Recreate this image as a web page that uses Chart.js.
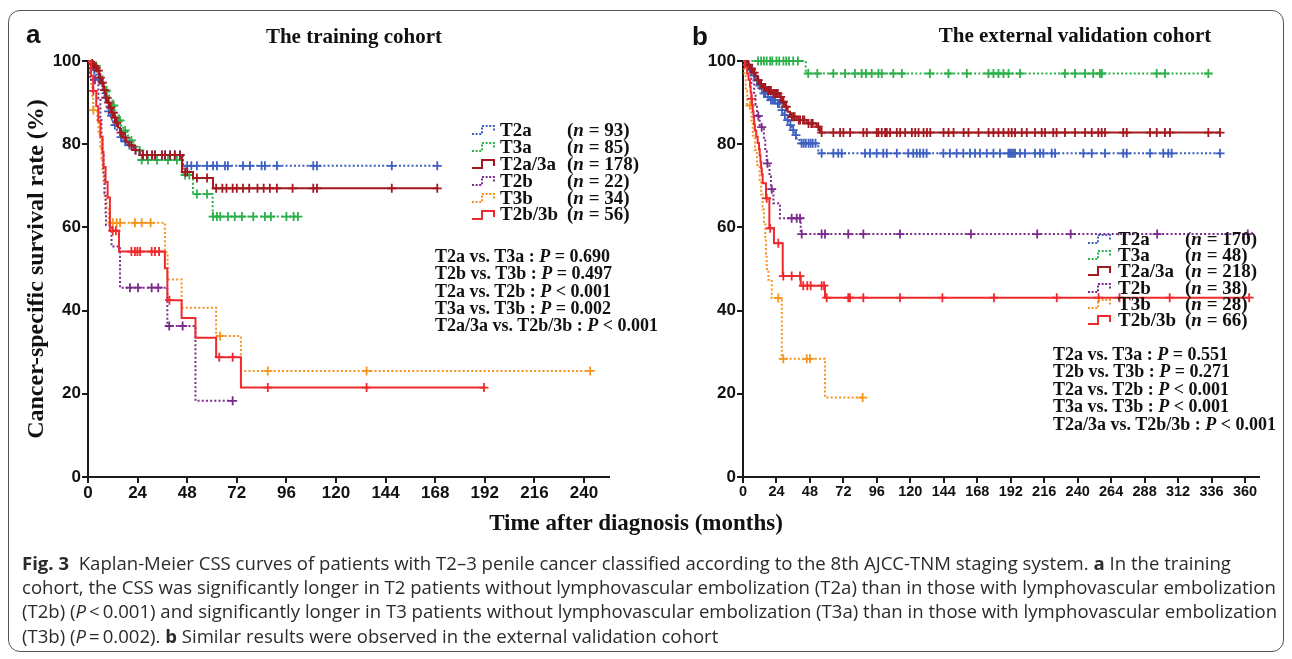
<!DOCTYPE html>
<html><head><meta charset="utf-8">
<script src="https://cdn.jsdelivr.net/npm/chart.js@4.4.0/dist/chart.umd.min.js"></script>
<style>
html,body{margin:0;padding:0;background:#fff;width:1292px;height:659px;overflow:hidden;}
#wrap{position:relative;width:1292px;height:659px;}
canvas{position:absolute;left:0;top:0;}
.box{position:absolute;left:8px;top:10px;width:1276px;height:642px;border:1px solid #555;border-radius:12px;box-sizing:border-box;}
.serif{font-family:"Liberation Serif","Times New Roman",serif;font-weight:bold;color:#111;}
.lbl{position:absolute;font-family:"Liberation Sans",Arial,sans-serif;font-weight:bold;font-size:26px;line-height:26px;color:#111;}
.ttl{position:absolute;font-size:21px;line-height:21px;text-align:center;white-space:nowrap;}
.leg{position:absolute;font-size:19px;white-space:nowrap;}
.leg .row{position:relative;}
.leg .nm{position:absolute;}
.leg .nn{position:absolute;}
.pv{position:absolute;font-size:18px;white-space:nowrap;}
#cap{position:absolute;left:22px;font-family:"Open Sans","Noto Sans",sans-serif;color:#2b2b2b;white-space:nowrap;}
#cap div{white-space:nowrap;}
</style>
</head>
<body>
<div id="wrap">
  <div class="box"></div>
  <canvas id="cA" width="1292" height="659"></canvas>
  <canvas id="cB" width="1292" height="659"></canvas>
  <div class="lbl" style="left:26px;top:21px">a</div>
  <div class="lbl" style="left:692px;top:23px">b</div>
  <div class="ttl serif" style="left:154px;top:26px;width:400px">The training cohort</div>
  <div class="ttl serif" style="left:875px;top:25px;width:400px">The external validation cohort</div>
  <div id="legA" class="leg serif" style="left:472px;top:122px"></div>
  <div id="legB" class="leg serif" style="left:1088px;top:231px"></div>
  <div id="pA" class="pv serif" style="left:435px;top:248px"></div>
  <div id="pB" class="pv serif" style="left:1053px;top:346px"></div>
  <div class="serif" style="position:absolute;left:336px;top:511px;width:600px;text-align:center;font-size:23px;line-height:23px;white-space:nowrap">Time after diagnosis (months)</div>
  <div id="cap">
    <div id="cl1"><b>Fig. 3</b>&nbsp; Kaplan-Meier CSS curves of patients with T2–3 penile cancer classified according to the 8th AJCC-TNM staging system. <b>a</b> In the training</div>
    <div id="cl2">cohort, the CSS was significantly longer in T2 patients without lymphovascular embolization (T2a) than in those with lymphovascular embolization</div>
    <div id="cl3">(T2b) (<i>P</i>&thinsp;&lt;&thinsp;0.001) and significantly longer in T3 patients without lymphovascular embolization (T3a) than in those with lymphovascular embolization</div>
    <div id="cl4">(T3b) (<i>P</i>&thinsp;=&thinsp;0.002). <b>b</b> Similar results were observed in the external validation cohort</div>
  </div>
</div>
<script>
// ---------- DATA ----------
const groupNames = ['T2a','T3a','T2a/3a','T2b','T3b','T2b/3b'];
const nTraining = [93, 85, 178, 22, 34, 56];
const nValidation = [170, 48, 218, 38, 28, 66];
const comparisons = ['T2a vs. T3a','T2b vs. T3b','T2a vs. T2b','T3a vs. T3b','T2a/3a vs. T2b/3b'];
const pTraining = ['= 0.690','= 0.497','< 0.001','= 0.002','< 0.001'];
const pValidation = ['= 0.551','= 0.271','< 0.001','< 0.001','< 0.001'];
const yTicks = [0,20,40,60,80,100];
const xTicksA = [0,24,48,72,96,120,144,168,192,216,240];
const xTicksB = [0,24,48,72,96,120,144,168,192,216,240,264,288,312,336,360];

// Training cohort: survival steps [month, %] and censor times (months)
const a_T2a_steps = [[0,100],[2,98.9],[3,97.8],[4,96.7],[5,95.6],[6,94.5],[7,92.3],[8,91.2],[9,89],[10,87.9],[11,86.8],[12,84.6],[14,83.4],[15.5,81.7],[17,80.6],[19,79.8],[22,78.6],[25,77.4],[46,74.8]];
const a_T2a_cens = [3,5.5,8.5,10,11.5,13,16,18,20,23,26.6,28.5,31,32.4,35.8,37.3,39.7,42,44.5,48,50,52.7,57.6,60.5,62.4,66.3,67.7,75,78.4,84,85.6,91.4,109,110.8,147,169];
const a_T3a_steps = [[0,100],[3,98.8],[5,97.6],[6,96.4],[7,95.2],[8,92.9],[10,91.7],[11,90.5],[12,89.3],[13,88.1],[14,86.9],[15,85.7],[16,84.5],[17,83.3],[19,82.1],[20,80.9],[22,79.7],[24,78.5],[26,76.2],[46,72.6],[50.8,68],[60.3,62.6]];
const a_T3a_cens = [4,9,12.5,15.5,18,21,25,26,29,33.4,38.7,43,47,49,52.7,57.6,60.5,62.4,64,67.7,71,74.5,80,85.6,88.5,96,99.5,101.6];
const a_T2a3a_steps = [[0,100],[1.5,99.4],[2.5,98.9],[3.5,98.3],[4.5,97.7],[5.5,96],[6.5,94.8],[7.5,93],[8.5,91.2],[9.5,90],[10.5,88.8],[11.5,87.6],[12.5,86.4],[13.5,85.2],[14.5,84],[15.5,82.8],[17,81.6],[18.5,80.4],[20,79.7],[22,78.6],[25,77.4],[45.5,73.3],[50.8,71.9],[60.5,69.4]];
const a_T2a3a_cens = [2,3,4,5,6,7,8,9,10,11,12,13,14,16,18,21,23,26.6,28.5,31,32.4,35.8,37.3,39.7,42,44.5,47,48,52.7,57.6,62,65,67,70,72,75,78,82,85,88,91.4,99,109,110.8,147,169];
const a_T2b_steps = [[0,100],[1,95.5],[5,90.9],[6,86.4],[6.5,81.8],[7,77.3],[7.5,72.7],[8,68.2],[8.5,63.6],[8.7,60.5],[11.4,55.4],[15.5,45.5],[38.4,36.3],[52,18.3]];
const a_T2b_cens = [3.4,20.3,24.2,30.8,34,39.3,45.8,70];
const a_T3b_steps = [[0,100],[1,97.1],[1.5,94.1],[2,91.2],[2.5,88.2],[4.5,85.3],[5,82.4],[6,79.4],[6.5,76.5],[7,73.5],[7.5,70.6],[8,67.6],[9,64.7],[10,61.1],[37.2,54],[38.5,47.5],[45.3,40.7],[62,33.9],[74,25.5]];
const a_T3b_cens = [2.6,12,13.9,15.5,22.7,26,30.3,63.9,87,134.8,243];
const a_T2b3b_steps = [[0,100],[1.5,96.4],[2.5,92.8],[4,89.1],[5,85.5],[6,81.8],[7,78.2],[7.5,74.5],[8.5,70.9],[9.5,67.2],[10.6,59.2],[15,54.2],[37.2,50.2],[38.4,42.5],[45.3,38.2],[52,33.5],[62,28.8],[74,21.5]];
const a_T2b3b_cens = [2.6,12,13.5,21,22.7,23.9,25.2,30.8,32.4,34.4,39.4,63.5,70,87,134.8,191.6];

// External validation cohort
const b_T2a_steps = [[0,100],[3,98.8],[5,97.8],[7,96.5],[9,95.3],[11,94.1],[12.2,93.5],[14.6,92.2],[17,91.4],[19.4,90.6],[24.2,89.8],[27.7,88.2],[29.5,87],[31.3,85.8],[33,84.6],[34.9,83.4],[36.7,82.2],[38.5,81],[40.9,80.2],[54,77.8]];
const b_T2a_cens = [4,6,8,10,12,13.5,15,16,18,20,21,22,23,25,26,28,30,32,34,36,38,42,43.5,45,47,48.5,50,52,56.4,64.8,68.3,70.8,87.5,91.1,95.9,100.6,103.1,110.3,118.5,122.1,124.6,126.9,129.3,131.7,143.7,148.4,153.2,158,162.8,166.4,170,174.8,179.6,184.3,190.3,191.5,192.7,193.9,195.1,198.6,202.2,209.4,213,215.4,221.4,223.8,244.1,250.1,259.6,272.7,275.2,291.9,301.4,305,307.4,342.1];
const b_T3a_steps = [[0,100],[45,97]];
const b_T3a_cens = [10.8,13,15,17,19.5,21,24,26,29,31,33,36,39.4,46.8,53.3,64.8,73.2,80.3,85.1,88.2,92.3,97.1,99.5,107.8,113.9,134.1,147.3,160.5,176,179.6,183.2,186.8,190.4,198.6,230.9,238.1,245.3,251.2,256,257.3,296.7,302.6,333.7];
const b_T2a3a_steps = [[0,100],[3,99.1],[5,98.2],[7,97.2],[9,96.3],[10.5,95.4],[12.2,94.5],[14,93.6],[17,92.9],[21.5,92.2],[26.5,91.4],[28,90.2],[30,89],[32,87.8],[33.7,86.6],[38.5,85.8],[45.7,85],[52.8,84.2],[55.2,82.8]];
const b_T2a3a_cens = [4,6,8,11,13,15,16,18,19,20,22,23,24,25,27,29,31,35,36,37,40,41,43,44,47,49,50,54,56.4,64.8,69.6,72,76.8,86.3,88.8,95.9,97.1,99.5,101.9,103.1,105.5,110.3,112.7,116.3,121.1,123.5,125.9,129.5,131.9,134.3,143.8,147.4,151,158.2,161.7,168.9,176.1,179.6,183.2,186.8,190.4,192.7,195.1,199.9,203.5,209.4,214.2,216.6,222.5,224.9,230.9,238.1,245.3,250.1,254.8,257.2,259.6,272.7,275.2,291.9,296.7,302.6,306.2,333.7,342.1];
const b_T2b_steps = [[0,100],[3,97.4],[6,94.7],[8,92.1],[9,89.5],[10,86.8],[12,84.1],[15,81.2],[16,78.3],[17,75.4],[19,72.3],[20,69.2],[21.8,65.8],[26.5,62.2],[41.4,58.4]];
const b_T2b_cens = [11,13.4,17.5,20.6,34.9,38.5,40.9,42.1,56.4,58.8,75.5,86.3,112.6,163.5,211,235,297,362];
const b_T3b_steps = [[0,100],[1,96.4],[2,92.9],[3,89.3],[6,85.7],[7,82.1],[8.6,78.6],[10,75],[12,71.4],[13,67.9],[14,64.3],[15,60.7],[16,57.1],[16.5,53.6],[17,50],[18.2,47.4],[20.6,43],[27.8,28.4],[58.8,19.1]];
const b_T3b_cens = [5,25.3,28.9,45.7,48,85.8];
const b_T2b3b_steps = [[0,100],[1.5,98.5],[3,97],[4,95.5],[5,93.9],[5.5,92.4],[6,90.9],[6.5,89.4],[7,87.9],[7.5,86.4],[8,84.8],[8.5,83.3],[9.5,81.8],[10.5,80.3],[11.5,78.8],[12,77.3],[12.5,75.8],[13,74.2],[13.5,72.7],[14.1,70.6],[16.5,67],[18.9,59.8],[22.2,56.2],[28.5,48.3],[41.4,46],[58.8,43.1]];
const b_T2b3b_cens = [6.2,17,19.5,25.3,28.9,34.9,40.9,43.2,46.1,48.5,56.4,58.1,60,75.5,76.7,86.3,112.6,143,180,225,255,270,306,363];

// ---------- STYLES ----------
const groupColors = ['#3d5fc0','#2bb04a','#a3191f','#7b2b8c','#f7941d','#ef2a2e'];
const groupDotted = [true,true,false,true,true,false];
const drawOrder = [5,2,0,1,3,4]; // first = top-most

const trainingSeries = [
  [a_T2a_steps,a_T2a_cens],[a_T3a_steps,a_T3a_cens],[a_T2a3a_steps,a_T2a3a_cens],
  [a_T2b_steps,a_T2b_cens],[a_T3b_steps,a_T3b_cens],[a_T2b3b_steps,a_T2b3b_cens]];
const validationSeries = [
  [b_T2a_steps,b_T2a_cens],[b_T3a_steps,b_T3a_cens],[b_T2a3a_steps,b_T2a3a_cens],
  [b_T2b_steps,b_T2b_cens],[b_T3b_steps,b_T3b_cens],[b_T2b3b_steps,b_T2b3b_cens]];

function survAt(steps, t){ let s = steps[0][1]; for (const [tt,v] of steps){ if (tt <= t) s = v; } return s; }

function buildDatasets(series){
  const ds = [];
  drawOrder.forEach(i => {
    const [steps, cens] = series[i];
    const lastC = Math.max(...cens);
    const line = steps.map(([x,y]) => ({x,y}));
    if (lastC > steps[steps.length-1][0]) line.push({x:lastC, y:survAt(steps,lastC)});
    ds.push({
      label: groupNames[i], data: line, stepped: true, clip: false,
      borderColor: groupColors[i], borderWidth: 2, borderDash: groupDotted[i] ? [2,2.2] : [],
      pointRadius: 0, fill: false, tension: 0
    });
    ds.push({
      label: groupNames[i] + ' censored', data: cens.map(t => ({x:t, y:survAt(steps,t)})),
      showLine: false, clip: false, pointStyle: 'cross', pointRadius: 4.5, pointBorderWidth: 1.8,
      borderColor: groupColors[i], backgroundColor: groupColors[i]
    });
  });
  return ds;
}

// tick font (narrow if available)
const mctx = document.createElement('canvas').getContext('2d');
mctx.font = 'bold 17px "Liberation Sans Narrow", monospace'; const w1 = mctx.measureText('360360').width;
mctx.font = 'bold 17px monospace'; const w2 = mctx.measureText('360360').width;
const narrowOK = Math.abs(w1 - w2) > 0.5;
const tickFontB = narrowOK ? {family:'"Liberation Sans Narrow"', weight:'bold', size:17} : {family:'"Liberation Sans"', weight:'bold', size:14.5};

function makeChart(id, series, xMax, xTicks, padLeft, yWidth, rightPx, xFont, yTitle){
  const axisCol = '#1a1a1a';
  return new Chart(document.getElementById(id), {
    type: 'line',
    data: { datasets: buildDatasets(series) },
    options: {
      responsive: false, animation: false, events: [],
      layout: { padding: { left: padLeft, top: 61, right: 1292 - rightPx, bottom: 0 } },
      plugins: { legend: {display:false}, tooltip: {enabled:false} },
      scales: {
        x: {
          type: 'linear', min: 0, max: xMax,
          afterFit(s){ s.height = 182; },
          afterBuildTicks(s){ s.ticks = xTicks.map(v => ({value:v})); },
          grid: { drawOnChartArea: false, color: axisCol, lineWidth: 2, tickLength: 6 },
          border: { color: axisCol, width: 2 },
          ticks: { font: xFont, color: '#111', padding: 0, maxRotation: 0, autoSkip: false }
        },
        y: {
          type: 'linear', min: 0, max: 100,
          afterFit(s){ s.width = yWidth; },
          afterBuildTicks(s){ s.ticks = yTicks.map(v => ({value:v})); },
          grid: { drawOnChartArea: false, color: axisCol, lineWidth: 2, tickLength: 6 },
          border: { color: axisCol, width: 2 },
          ticks: { font: {family:'"Liberation Sans"', weight:'bold', size:17}, color: '#111', padding: 1 },
          title: { display: !!yTitle, text: yTitle || '', color: '#111',
                   font: {family:'"Liberation Serif"', weight:'bold', size:24}, padding: {top: 22.6, bottom: 0} }
        }
      }
    }
  });
}

makeChart('cA', trainingSeries, 252, xTicksA, 0, 88, 88 + 252*496/240,
          {family:'"Liberation Sans"', weight:'bold', size:17}, 'Cancer-specific survival rate (%)');
makeChart('cB', validationSeries, 370, xTicksB, 690, 53, 743 + 370*502/360, tickFontB, null);

// ---------- legends & annotations ----------
function stepIcon(color, dotted){
  return '<svg width="24" height="14" viewBox="0 0 24 14"><polyline points="0,11 10,11 10,3 22,3 22,9" fill="none" stroke="'+color+'" stroke-width="2"'+(dotted?' stroke-dasharray="2,1.6"':'')+'/></svg>';
}
function buildLegend(elId, ns, rowH, nameOff, nOff){
  const el = document.getElementById(elId);
  let html = '';
  groupNames.forEach((g,i) => {
    html += '<div class="row" style="height:'+rowH+'px;line-height:'+rowH+'px">'
      + '<span style="position:absolute;left:0;top:'+(rowH/2-7)+'px;height:14px;line-height:0">'+stepIcon(groupColors[i], groupDotted[i])+'</span>'
      + '<span class="nm" style="left:'+nameOff+'px">'+g+'</span>'
      + '<span class="nn" style="left:'+nOff+'px">(<i>n</i> = '+ns[i]+')</span></div>';
  });
  el.innerHTML = html;
}
buildLegend('legA', nTraining, 16.9, 28, 95);
buildLegend('legB', nValidation, 16.2, 30, 97);

function buildP(elId, ps, lh){
  const el = document.getElementById(elId);
  el.innerHTML = comparisons.map((c,i) => '<div style="height:'+lh+'px;line-height:'+lh+'px">'+c+' : <i>P</i> '+ps[i]+'</div>').join('');
}
buildP('pA', pTraining, 17.25);
buildP('pB', pValidation, 17.4);

// caption sizing
(function(){
  const cap = document.getElementById('cap');
  const lh = 24.3;
  cap.style.top = (563 - lh/2) + 'px';
  cap.style.lineHeight = lh + 'px';
  let fs = 16; cap.style.fontSize = fs + 'px';
  const l3 = document.getElementById('cl3');
  l3.style.display = 'inline-block';
  const w = l3.getBoundingClientRect().width;
  l3.style.display = '';
  fs = fs * 1256 / w;
  cap.style.fontSize = fs + 'px';
})();
</script>
</body></html>
